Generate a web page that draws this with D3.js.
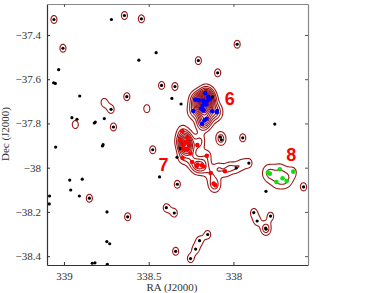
<!DOCTYPE html>
<html>
<head>
<meta charset="utf-8">
<script src="https://cdn.jsdelivr.net/npm/d3@7"></script>
<style>
  body { margin: 0; background: #fff; }
</style>
</head>
<body>
<svg id="chart" width="383" height="293"></svg>
<script>
// field stars without a density peak of their own
const fieldStars = [
    [339.031, -37.557], [339.061, -37.616], [339.051, -37.619], [338.907, -37.676],
    [338.720, -37.330], [338.953, -37.774], [338.923, -37.781], [338.821, -37.798],
    [338.815, -37.794], [338.762, -37.778], [339.049, -37.907], [338.769, -37.896],
    [338.773, -37.902], [338.966, -38.056], [338.892, -38.052], [338.960, -38.101],
    [339.085, -38.128], [338.909, -38.128], [339.087, -38.164], [338.746, -38.200],
    [338.747, -38.334], [338.730, -38.344], [338.833, -38.432], [338.817, -38.430],
    [338.744, -38.437], [338.456, -37.480], [338.558, -37.514], [338.363, -37.687],
    [338.309, -37.712], [337.756, -37.803], [338.314, -37.914], [338.333, -37.953],
    [338.436, -38.042], [337.808, -38.107], [338.124, -37.681], [338.095, -37.741]
];
// field stars that sit on a density peak
const peakStars = [
    [339.059, -37.330], [339.006, -37.460], [338.643, -37.312], [338.629, -37.679],
    [338.722, -37.736], [338.708, -37.816], [338.850, -38.138], [338.624, -38.222],
    [338.543, -37.327], [337.978, -37.442], [338.207, -37.516], [338.093, -37.571],
    [338.424, -37.628], [338.345, -37.633], [338.077, -37.862], [338.071, -37.874],
    [337.945, -37.865], [338.476, -37.919], [338.331, -38.075], [337.984, -38.001],
    [337.909, -37.979], [337.586, -38.087], [337.880, -38.203], [337.860, -38.241],
    [337.781, -38.219], [337.810, -38.273], [337.807, -38.278], [338.396, -38.181],
    [338.349, -38.205], [338.152, -38.302], [338.200, -38.330], [338.223, -38.368],
    [338.253, -38.411], [338.341, -38.378]
];
// density peaks with no plotted star
const hiddenPeaks = [
    [338.511, -37.733], [338.933, -37.805], [338.763, -37.705],
    [338.089, -38.003], [338.020, -38.000], [337.950, -37.985],
    [338.290, -37.867], [338.278, -37.903], [338.284, -37.890],
    [338.195, -37.876]
];
const members6 = [
    [338.166, -37.663], [338.225, -37.693], [338.205, -37.695], [338.154, -37.696],
    [338.139, -37.690], [338.172, -37.706], [338.160, -37.714], [338.182, -37.721],
    [338.191, -37.733], [338.237, -37.744], [338.176, -37.741], [338.125, -37.745],
    [338.098, -37.749], [338.159, -37.779], [338.170, -37.786], [338.185, -37.802],
    [338.148, -37.680], [338.178, -37.696]
];
const members7 = [
    [338.302, -37.834], [338.314, -37.876], [338.284, -37.884], [338.294, -37.896],
    [338.266, -37.890], [338.269, -37.863], [338.294, -37.914], [338.272, -37.917],
    [338.254, -37.936], [338.213, -37.898], [338.157, -37.946], [338.300, -37.956],
    [338.244, -37.974], [338.211, -37.986], [338.217, -37.994], [338.186, -37.989],
    [338.176, -37.995], [338.134, -38.024], [338.050, -38.016], [338.117, -38.072],
    [338.107, -38.079]
];
const members8 = [
    [337.797, -38.022], [337.785, -38.027], [337.726, -38.007], [337.647, -38.018],
    [337.746, -38.065], [337.710, -38.048], [337.686, -38.060]
];
const clusterNames = ["6", "7", "8"];
const clusterLabelPos = [[338.021, -37.691], [338.412, -37.987], [337.659, -37.942]];
const raTicks = [339, 338.5, 338];
const decTicks = [-37.4, -37.6, -37.8, -38, -38.2, -38.4];

const svg = d3.select("#chart");
const margin = {left: 47, top: 4, right: 75, bottom: 28};
const width = 383 - margin.left - margin.right;
const height = 293 - margin.top - margin.bottom;

const x = d3.scaleLinear().domain([339.1, 337.56]).range([0, width]);
const y = d3.scaleLinear().domain([-37.26, -38.44]).range([0, height]);

const g = svg.append("g").attr("transform", `translate(${margin.left},${margin.top})`);

// smoothed surface density, gaussian kernel in degrees
const kernelSets = [
    {pts: peakStars, w: 1, bw: 0.021},
    {pts: hiddenPeaks, w: 1, bw: 0.021},
    {pts: members6, w: 1.45, bw: 0.027},
    {pts: members7, w: 1, bw: 0.025},
    {pts: members8, w: 0.75, bw: 0.03}
];
const cell = 0.5;
const nx = Math.ceil(width / cell) + 1;
const ny = Math.ceil(height / cell) + 1;
const grid = new Float64Array(nx * ny);
const kx = Math.abs(x(1) - x(0));
const ky = Math.abs(y(1) - y(0));
kernelSets.forEach(function (set) {
    set.pts.forEach(function (p) {
        const px = x(p[0]), py = y(p[1]);
        const sx = set.bw * kx, sy = set.bw * ky;
        const i0 = Math.max(0, Math.floor((px - 4 * sx) / cell));
        const i1 = Math.min(nx - 1, Math.ceil((px + 4 * sx) / cell));
        const j0 = Math.max(0, Math.floor((py - 4 * sy) / cell));
        const j1 = Math.min(ny - 1, Math.ceil((py + 4 * sy) / cell));
        for (let j = j0; j <= j1; j++) {
            const dy = j * cell - py;
            for (let i = i0; i <= i1; i++) {
                const dx = i * cell - px;
                grid[j * nx + i] += set.w * Math.exp(-0.5 * (dx * dx / (sx * sx) + dy * dy / (sy * sy)));
            }
        }
    });
});
const levels = d3.range(0.7, 16, 0.7);
const contours = d3.contours().size([nx, ny]).thresholds(levels)(grid);
const gridPath = d3.geoPath(d3.geoTransform({
    point: function (a, b) { this.stream.point((a - 0.5) * cell, (b - 0.5) * cell); }
}));

g.append("g")
    .selectAll("path")
    .data(contours)
    .enter()
    .append("path")
    .attr("d", gridPath)
    .attr("fill", "none")
    .attr("stroke", "#9c1818")
    .attr("stroke-width", 1.1);

// stars
g.append("g")
    .selectAll("circle")
    .data(fieldStars.concat(peakStars))
    .enter()
    .append("circle")
    .attr("cx", d => x(d[0]))
    .attr("cy", d => y(d[1]))
    .attr("r", 1.6)
    .attr("fill", "#000");

const memberSets = [[members6, "#0000ff"], [members7, "#ff0000"], [members8, "#11dd11"]];
memberSets.forEach(function (m) {
    g.append("g")
        .selectAll("circle")
        .data(m[0])
        .enter()
        .append("circle")
        .attr("cx", d => x(d[0]))
        .attr("cy", d => y(d[1]))
        .attr("r", 2.3)
        .attr("fill", m[1]);
});

g.append("g")
    .selectAll("text")
    .data(clusterNames)
    .enter()
    .append("text")
    .attr("x", (d, i) => x(clusterLabelPos[i][0]))
    .attr("y", (d, i) => y(clusterLabelPos[i][1]))
    .attr("text-anchor", "middle")
    .attr("dominant-baseline", "central")
    .attr("font-family", "Liberation Sans, Arial, sans-serif")
    .attr("font-weight", "bold")
    .attr("font-size", 18)
    .attr("fill", "#ff0000")
    .text(d => d);

// axes
const fmt = d3.format(".1~f");
const xAxis = g.append("g")
    .attr("transform", `translate(0,${height})`)
    .call(d3.axisBottom(x).tickValues(raTicks).tickFormat(fmt).tickSize(-3).tickSizeOuter(0).tickPadding(7));
const yAxis = g.append("g")
    .call(d3.axisLeft(y).tickValues(decTicks).tickFormat(fmt).tickSize(-3).tickSizeOuter(0).tickPadding(6));
const topAxis = g.append("g")
    .call(d3.axisTop(x).tickValues(raTicks).tickFormat("").tickSize(-3).tickSizeOuter(0));
const rightAxis = g.append("g")
    .attr("transform", `translate(${width},0)`)
    .call(d3.axisRight(y).tickValues(decTicks).tickFormat("").tickSize(-3).tickSizeOuter(0));

[xAxis, yAxis].forEach(function (a) {
    a.select(".domain").attr("stroke", "#333").attr("stroke-width", 1.2);
    a.selectAll(".tick line").attr("stroke", "#333");
    a.selectAll("text")
        .attr("font-family", "Liberation Serif, Times New Roman, serif")
        .attr("font-size", 11)
        .attr("fill", "#333");
});
[topAxis, rightAxis].forEach(function (a) {
    a.select(".domain").attr("stroke", "#888").attr("stroke-width", 1.2);
    a.selectAll(".tick line").attr("stroke", "#555");
});

svg.append("text")
    .attr("x", 172)
    .attr("y", 291)
    .attr("text-anchor", "middle")
    .attr("font-family", "Liberation Serif, Times New Roman, serif")
    .attr("font-size", 11)
    .attr("fill", "#333")
    .text("RA (J2000)");

svg.append("text")
    .attr("transform", "translate(9,134) rotate(-90)")
    .attr("text-anchor", "middle")
    .attr("font-family", "Liberation Serif, Times New Roman, serif")
    .attr("font-size", 11)
    .attr("fill", "#333")
    .text("Dec (J2000)");
</script>
</body>
</html>
